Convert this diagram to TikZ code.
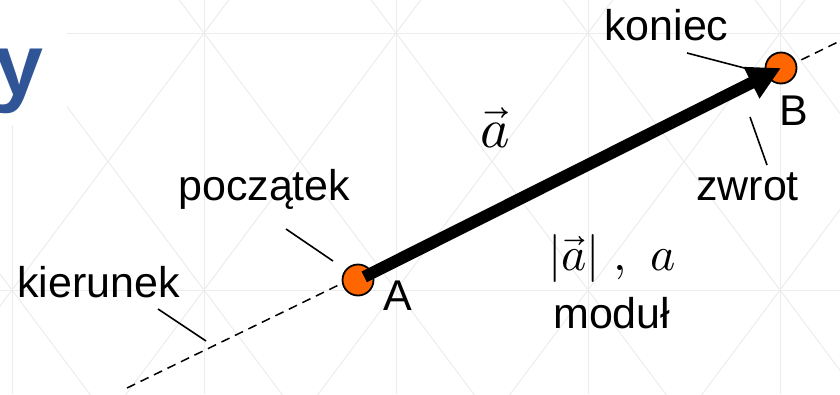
\documentclass[tikz,border=0pt]{standalone}
\usepackage{unicode-math}
\setmainfont{Liberation Sans}
\usetikzlibrary{arrows.meta}
\definecolor{dotorange}{RGB}{255,102,0}
\definecolor{titleblue}{RGB}{47,85,151}
\definecolor{gridgray}{RGB}{236,236,236}
\begin{document}
\begin{tikzpicture}[x=1pt,y=-1pt,
  lbl/.style={font=\fontsize{43}{50}\selectfont, inner sep=0pt, anchor=base west},
  mathlbl/.style={inner sep=0pt, anchor=base west},
  endpoint/.style={circle, draw=black, line width=1.8pt, fill=dotorange, minimum size=31pt, inner sep=0pt},
  pointer/.style={line width=1.6pt},
  gridline/.style={draw=gridgray, line width=1pt},
  dirline/.style={line width=1.5pt, dash pattern=on 9pt off 6pt},
  vecarrow/.style={line width=12pt, -{Triangle[length=33pt,width=33pt]}}]
\useasboundingbox (0,0) rectangle (840,394);
% background lattice
\begin{scope}
  \clip (0,0) rectangle (840,394);
  \foreach \x in {12,204,396,588,780} \draw[gridline] (\x,0) -- (\x,394);
  \foreach \y in {33,290} \draw[gridline] (0,\y) -- (840,\y);
  \foreach \i in {-1,...,4} {
    \foreach \j in {-1,0,1} {
      \draw[gridline] ({12+192*\i},{33+257*\j}) -- ({204+192*\i},{290+257*\j});
      \draw[gridline] ({204+192*\i},{33+257*\j}) -- ({12+192*\i},{290+257*\j});
    }
  }
\end{scope}
% title remnant
\fill[white] (0,0) rectangle (67,125);
\node[font=\fontsize{88}{100}\selectfont\bfseries, text=titleblue, inner sep=0pt, anchor=base east] (title) at (44,95) {y};
% direction line
\coordinate (d1) at (127,388);
\coordinate (d2) at (840,41);
\draw[dirline] (d1) -- (d2);
% end points
\node[endpoint] (A) at (358,280) {};
\node[endpoint] (B) at (781,68) {};
% vector
\draw[vecarrow, shorten <=7pt] (A.center) -- (B.center);
% labels
\node[lbl] (kier) at (17,297) {kierunek};
\node[lbl] (pocz) at (178,200) {początek};
\node[lbl] (labA) at (383,310) {A};
\node[lbl] (labB) at (779,125) {B};
\node[lbl] (kon) at (604,40) {koniec};
\node[lbl] (zw) at (696,200) {zwrot};
\node[lbl] (mod) at (553,328) {moduł};
\node[mathlbl, font=\fontsize{56}{64}\selectfont] (veca) at (480,147) {$\vec{a}$};
\node[mathlbl, font=\fontsize{48}{56}\selectfont] (norm) at (548,270) {$|\vec{a}|\ ,\hspace{16pt}a$};
% pointer lines
\coordinate (p1) at (286,229); \coordinate (p2) at (333,261);
\coordinate (k1) at (158,309); \coordinate (k2) at (206,341);
\coordinate (n1) at (687,53);  \coordinate (n2) at (752,70);
\coordinate (z1) at (750,117); \coordinate (z2) at (767,165);
\draw[pointer] (p1) -- (p2);
\draw[pointer] (k1) -- (k2);
\draw[pointer] (n1) -- (n2);
\draw[pointer] (z1) -- (z2);
\end{tikzpicture}
\end{document}
